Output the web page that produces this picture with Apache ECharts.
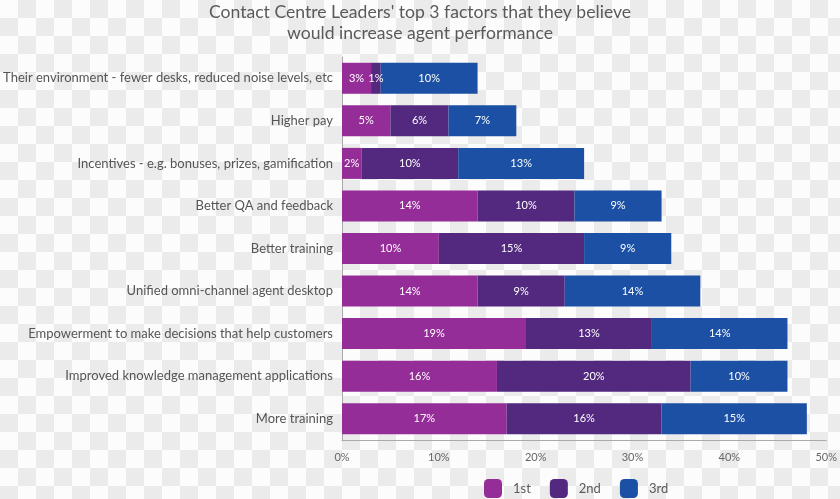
<!DOCTYPE html>
<html>
<head>
<meta charset="utf-8">
<script src="https://cdn.jsdelivr.net/npm/echarts@6/dist/echarts.min.js"></script>
<style>
html,body{margin:0;padding:0;}
body{width:840px;height:499px;background:repeating-conic-gradient(#ebebeb 0 25%, #fcfcfc 0 50%) 0 0/36px 36px;}
#chart{width:840px;height:499px;}
</style>
</head>
<body>
<div id="chart"></div>
<script>
const categories = [
  "Their environment - fewer desks, reduced noise levels, etc",
  "Higher pay",
  "Incentives - e.g. bonuses, prizes, gamification",
  "Better QA and feedback",
  "Better training",
  "Unified omni-channel agent desktop",
  "Empowerment to make decisions that help customers",
  "Improved knowledge management applications",
  "More training"
];
const first  = [3, 5, 2, 14, 10, 14, 19, 16, 17];
const second = [1, 6, 10, 10, 15, 9, 13, 20, 16];
const third  = [10, 7, 13, 9, 9, 14, 14, 10, 15];
const xTicks = [0, 10, 20, 30, 40, 50];
const seriesNames = ["1st", "2nd", "3rd"];
const colors = ["#952d98", "#52297f", "#1b50a4"];

const chart = echarts.init(document.getElementById('chart'));
const font = 'Lato, "Open Sans", sans-serif';
function mk(name, data, color) {
  return {
    name: name, type: 'bar', stack: 'total', data: data,
    barWidth: 31,
    itemStyle: { color: color },
    label: { show: true, position: 'inside', color: '#fff', fontSize: 11, fontFamily: font, formatter: p => p.value + '%' }
  };
}
chart.setOption({
  backgroundColor: 'transparent',
  animation: false,
  color: colors,
  title: {
    text: "Contact Centre Leaders' top 3 factors that they believe\nwould increase agent performance",
    left: 'center', top: -3,
    textStyle: { color: '#5a5a5a', fontSize: 17.6, fontWeight: 'normal', fontFamily: font, lineHeight: 21 }
  },
  legend: {
    left: 484, top: 479, padding: 0,
    itemWidth: 18, itemHeight: 19, itemGap: 19,
    textStyle: { color: '#5a5a5a', fontSize: 13, fontFamily: font, padding: [0, 0, 0, 6] },
    data: seriesNames
  },
  grid: { left: 342, right: 10, top: 57, bottom: 59, containLabel: false },
  xAxis: {
    type: 'value', min: 0, max: 50, interval: 10,
    axisLine: { show: true, lineStyle: { color: '#aaa' } },
    axisTick: { show: false },
    splitLine: { show: false },
    axisLabel: { color: '#666', fontSize: 11, fontFamily: font, margin: 12, formatter: v => xTicks.includes(v) ? v + '%' : '' }
  },
  yAxis: {
    type: 'category', data: categories, inverse: true,
    axisLine: { show: true, lineStyle: { color: '#aaa' } },
    axisTick: { show: false },
    axisLabel: { color: '#555', fontSize: 13, fontFamily: font, margin: 9 }
  },
  series: [mk(seriesNames[0], first, colors[0]), mk(seriesNames[1], second, colors[1]), mk(seriesNames[2], third, colors[2])]
});
</script>
</body>
</html>
